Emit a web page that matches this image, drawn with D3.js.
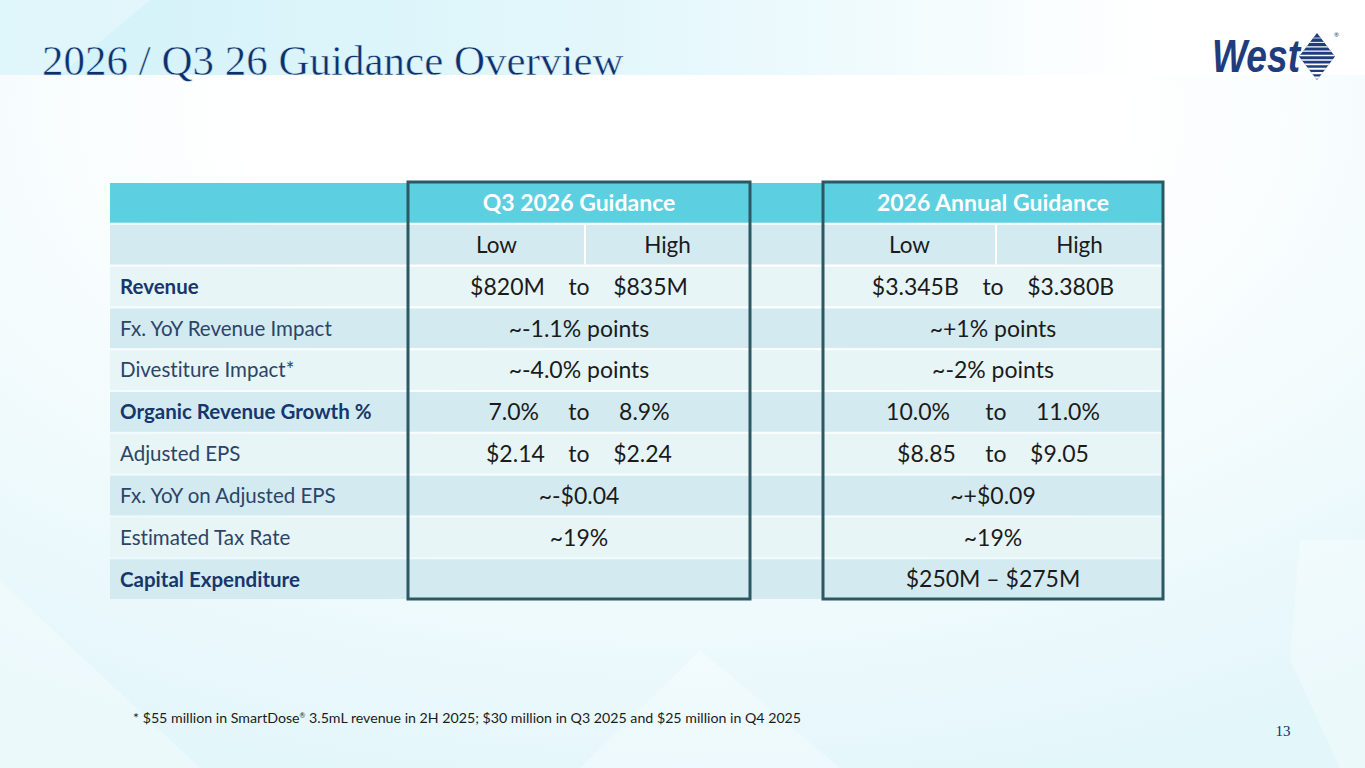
<!DOCTYPE html>
<html>
<head>
<meta charset="utf-8">
<script src="https://cdn.jsdelivr.net/npm/d3@7"></script>
<style>
  html, body { margin: 0; padding: 0; background: #fff; }
  svg { display: block; }
  text { white-space: pre; font-variant-ligatures: none; }
</style>
</head>
<body>
<svg id="slide" width="1365" height="768"></svg>
<script>
// ---- data ----
const titleText = "2026 / Q3 26 Guidance Overview";
const groupTitles = ["Q3 2026 Guidance", "2026 Annual Guidance"];
const subHeaders = ["Low", "High"];
const rowLabels = [
  "Revenue",
  "Fx. YoY Revenue Impact",
  "Divestiture Impact*",
  "Organic Revenue Growth %",
  "Adjusted EPS",
  "Fx. YoY on Adjusted EPS",
  "Estimated Tax Rate",
  "Capital Expenditure"
];
const boldRows = [true, false, false, true, false, false, false, true];
const q3Values = [
  "$820M    to    $835M",
  "~-1.1% points",
  "~-4.0% points",
  "7.0%     to     8.9%",
  "$2.14    to    $2.24",
  "~-$0.04",
  "~19%",
  ""
];
const annualValues = [
  "$3.345B    to    $3.380B",
  "~+1% points",
  "~-2% points",
  "10.0%      to     11.0%",
  "$8.85     to    $9.05",
  "~+$0.09",
  "~19%",
  "$250M \u2013 $275M"
];
const footnoteParts = ["* $55 million in SmartDose", "\u00AE", " 3.5mL revenue in 2H 2025; $30 million in Q3 2025 and $25 million in Q4 2025"];
const pageNumber = "13";

// ---- layout ----
const W = 1365, H = 768;
const navy = "#0d2f6e";
const sans = "Lato, 'Open Sans', sans-serif";
const serif = "'Liberation Serif', 'DejaVu Serif', serif";

const svg = d3.select("#slide");
const defs = svg.append("defs");

// background
const bgGrad = defs.append("radialGradient").attr("id", "bg")
    .attr("cx", "0.5").attr("cy", "0.15").attr("r", "0.9");
bgGrad.append("stop").attr("offset", "0.35").attr("stop-color", "#ffffff");
bgGrad.append("stop").attr("offset", "1").attr("stop-color", "#e3f6fa");

const bandGrad = defs.append("linearGradient").attr("id", "band")
    .attr("gradientUnits", "userSpaceOnUse")
    .attr("x1", 0).attr("x2", W).attr("y1", 0).attr("y2", 0);
bandGrad.append("stop").attr("offset", "0").attr("stop-color", "#d2f2f9");
bandGrad.append("stop").attr("offset", "0.45").attr("stop-color", "#e3f7fb");
bandGrad.append("stop").attr("offset", "0.85").attr("stop-color", "#ffffff");

svg.append("rect").attr("width", W).attr("height", H).attr("fill", "url(#bg)");
svg.append("rect").attr("width", W).attr("height", 75).attr("fill", "url(#band)");

// faint facets in the background
const facets = [
  [[0, 0], [150, 0], [60, 75], [0, 75]],
  [[1300, 540], [1365, 540], [1365, 768], [1340, 768], [1290, 660]],
  [[0, 580], [200, 768], [0, 768]],
  [[700, 650], [840, 768], [580, 768]]
];
svg.append("g").selectAll("polygon").data(facets).join("polygon")
    .attr("points", d => d.map(p => p.join(",")).join(" "))
    .attr("fill", "#ffffff").attr("opacity", 0.3);

// title (thin stroke in band colour lightens the serif)
svg.append("text")
    .attr("x", 42).attr("y", 75)
    .attr("font-family", serif).attr("font-size", 43)
    .attr("fill", navy)
    .attr("stroke", "url(#band)").attr("stroke-width", 0.5)
    .text(titleText);

// logo
const logo = svg.append("g");
logo.append("text")
    .attr("x", 1212).attr("y", 72)
    .attr("font-family", "'Liberation Sans', Arial, sans-serif")
    .attr("font-weight", "bold").attr("font-style", "italic")
    .attr("font-size", 47)
    .attr("textLength", 88).attr("lengthAdjust", "spacingAndGlyphs")
    .attr("fill", "#1f3d7d")
    .text("West");
const diamond = [[1317, 33], [1335, 56.5], [1317, 80], [1299, 56.5]];
defs.append("clipPath").attr("id", "dclip")
  .append("polygon").attr("points", diamond.map(p => p.join(",")).join(" "));
logo.append("polygon")
    .attr("points", diamond.map(p => p.join(",")).join(" "))
    .attr("fill", "#1f3d7d");
const stripes = d3.range(38, 80, 4.4);
logo.append("g").attr("clip-path", "url(#dclip)")
  .selectAll("line").data(stripes).join("line")
    .attr("x1", 1295).attr("x2", 1340)
    .attr("y1", d => d).attr("y2", d => d)
    .attr("stroke", "#ffffff")
    .attr("stroke-width", (d, i) => 0.8 + i * 0.18);
logo.append("text").attr("x", 1334).attr("y", 37)
    .attr("font-family", sans).attr("font-size", 6).attr("fill", "#1f3d7d")
    .text("\u00AE");

// ---- table ----
const tableLeft = 110;
const colWidths = [298, 342, 73, 340];
const colStart = colWidths.map((w, i) => tableLeft + d3.sum(colWidths.slice(0, i)));
const tableRight = tableLeft + d3.sum(colWidths);
const groupCols = [1, 3];

const y = d3.scaleBand()
    .domain(d3.range(rowLabels.length + 2))
    .range([183, 599])
    .paddingInner(0.05);

const rowFill = i => i === 0 ? "#5ccfe0" : (i % 2 === 1 ? "#d3ebf0" : "#e7f5f7");

const table = svg.append("g");
table.selectAll("rect.row").data(y.domain()).join("rect")
    .attr("class", "row")
    .attr("x", tableLeft).attr("width", tableRight - tableLeft)
    .attr("y", d => y(d)).attr("height", y.bandwidth())
    .attr("fill", rowFill);

// white split in the Low/High row
const splitAt = c => colStart[c] + (c === 1 ? 177 : 173);
table.selectAll("line.split").data(groupCols).join("line")
    .attr("class", "split")
    .attr("x1", splitAt).attr("x2", splitAt)
    .attr("y1", y(1)).attr("y2", y(1) + y.bandwidth())
    .attr("stroke", "#ffffff").attr("stroke-width", 2);

// group titles
table.selectAll("text.group").data(groupTitles).join("text")
    .attr("class", "group")
    .attr("x", (d, i) => colStart[groupCols[i]] + colWidths[groupCols[i]] / 2)
    .attr("y", y(0) + y.bandwidth() / 2).attr("dy", "0.36em")
    .attr("text-anchor", "middle")
    .attr("font-family", sans).attr("font-weight", "bold").attr("font-size", 23)
    .attr("fill", "#ffffff")
    .text(d => d);

// Low / High
groupCols.forEach(c => {
  const halves = [[colStart[c], splitAt(c)], [splitAt(c), colStart[c] + colWidths[c]]];
  table.selectAll(null).data(subHeaders).join("text")
      .attr("x", (d, i) => (halves[i][0] + halves[i][1]) / 2)
      .attr("y", y(1) + y.bandwidth() / 2).attr("dy", "0.36em")
      .attr("text-anchor", "middle")
      .attr("font-family", sans).attr("font-size", 22.5)
      .attr("fill", "#1b1b1b")
      .text(d => d);
});

// row labels
table.selectAll("text.label").data(rowLabels).join("text")
    .attr("class", "label")
    .attr("x", tableLeft + 10)
    .attr("y", (d, i) => y(i + 2) + y.bandwidth() / 2).attr("dy", "0.36em")
    .attr("font-family", sans).attr("font-size", 20.5)
    .attr("font-weight", (d, i) => boldRows[i] ? "bold" : "normal")
    .attr("fill", (d, i) => boldRows[i] ? "#17366b" : "#2c4468")
    .text(d => d);

// values
[q3Values, annualValues].forEach((vals, g) => {
  const c = groupCols[g];
  table.selectAll(null).data(vals).join("text")
      .attr("x", colStart[c] + colWidths[c] / 2)
      .attr("y", (d, i) => y(i + 2) + y.bandwidth() / 2).attr("dy", "0.36em")
      .attr("text-anchor", "middle")
      .attr("font-family", sans).attr("font-size", 23)
      .attr("fill", "#1b1b1b")
      .text(d => d);
});

// boxes round the two guidance groups
table.selectAll("rect.box").data(groupCols).join("rect")
    .attr("class", "box")
    .attr("x", c => colStart[c]).attr("width", c => colWidths[c])
    .attr("y", 182).attr("height", 417)
    .attr("fill", "none")
    .attr("stroke", "#2b5862").attr("stroke-width", 3);

// footnote
const foot = svg.append("text")
    .attr("x", 133).attr("y", 723)
    .attr("font-family", sans).attr("font-size", 14.2)
    .attr("fill", "#1b1b1b");
foot.append("tspan").text(footnoteParts[0]);
foot.append("tspan").attr("font-size", 7).attr("dy", -5).text(footnoteParts[1]);
foot.append("tspan").attr("dy", 5).text(footnoteParts[2]);

// page number
svg.append("text")
    .attr("x", 1283).attr("y", 736)
    .attr("text-anchor", "middle")
    .attr("font-family", serif).attr("font-size", 15)
    .attr("fill", navy)
    .text(pageNumber);
</script>
</body>
</html>
